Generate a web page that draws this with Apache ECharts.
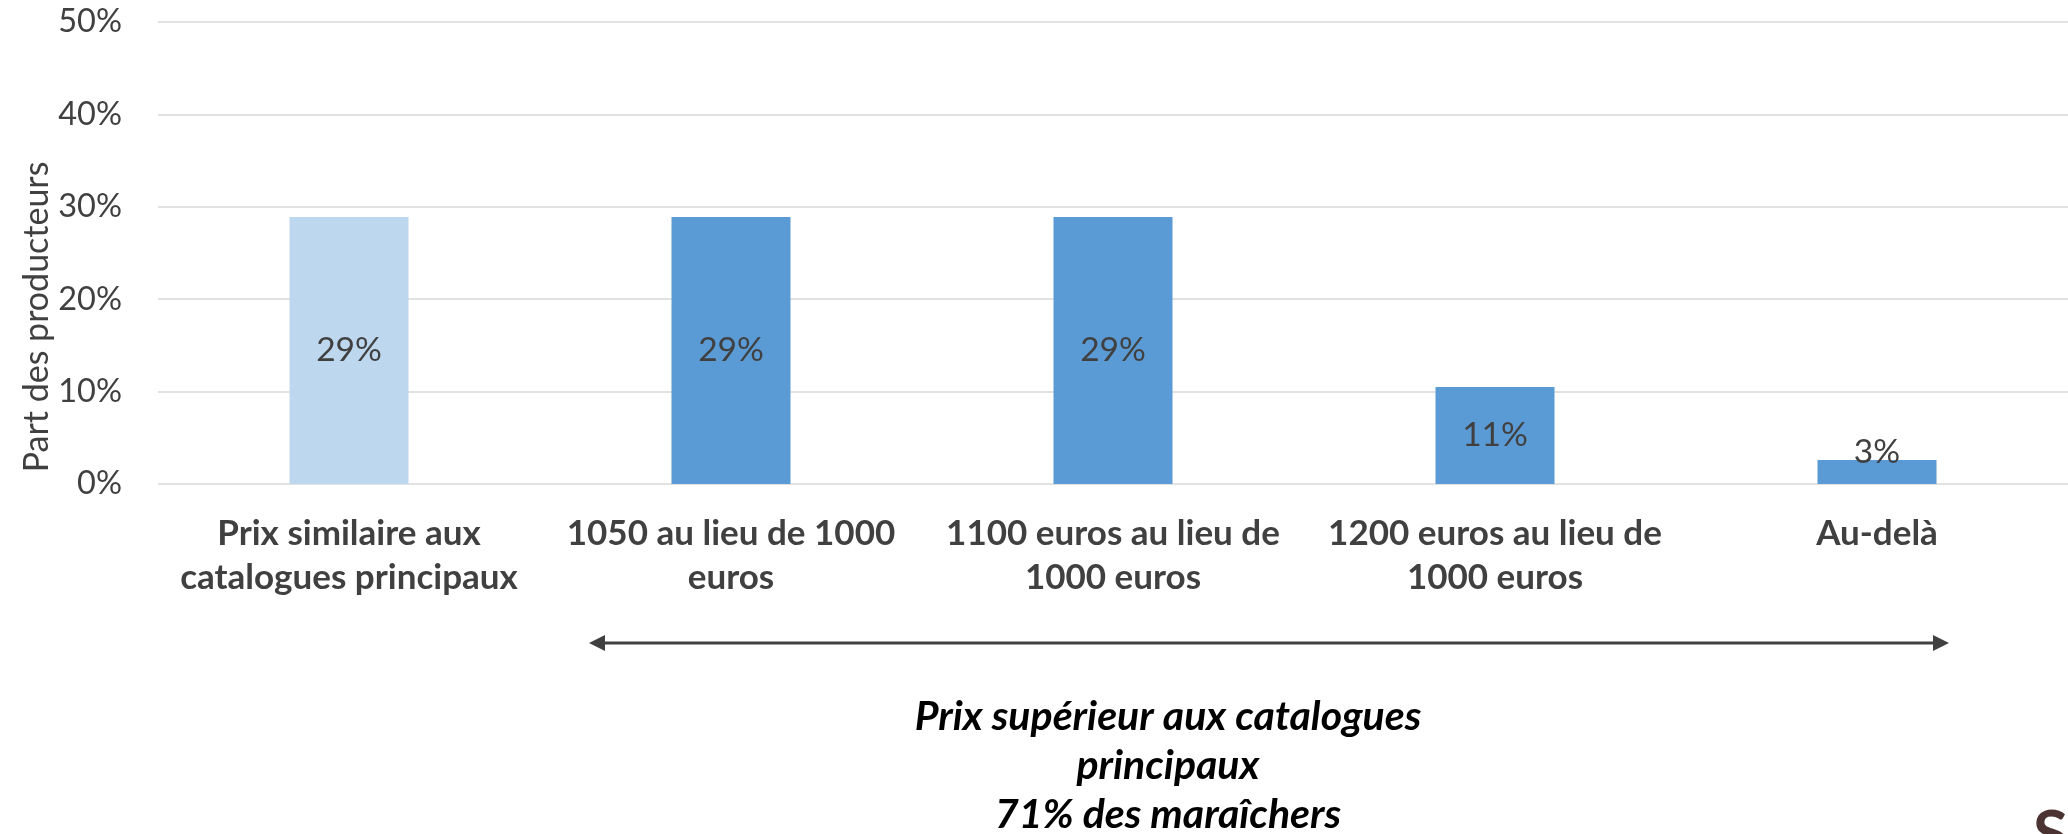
<!DOCTYPE html>
<html>
<head>
<meta charset="utf-8">
<script src="https://cdn.jsdelivr.net/npm/echarts@6/dist/echarts.min.js"></script>
<style>
  html, body { margin: 0; padding: 0; background: #fff; }
  #chart { width: 2068px; height: 834px; }
</style>
</head>
<body>
<div id="chart"></div>
<script>
// catégories (retours à la ligne comme dans l'original)
const categories = [
  'Prix similaire aux\ncatalogues principaux',
  '1050 au lieu de 1000\neuros',
  '1100 euros au lieu de\n1000 euros',
  '1200 euros au lieu de\n1000 euros',
  'Au-delà'
]
// part des producteurs, en %
const shares = [28.9, 28.9, 28.9, 10.5, 2.6]
const yTicks = [0, 10, 20, 30, 40, 50]
const yTitle = 'Part des producteurs'
const noteLines = ['Prix supérieur aux catalogues', 'principaux', '71% des maraîchers']

const font = 'Lato, "Noto Sans", sans-serif'
const textColor = '#404040'

const chart = echarts.init(document.getElementById('chart'))

chart.setOption({
  animation: false,
  grid: {
    left: 158,
    right: -4,
    top: 22,
    bottom: 350
  },
  xAxis: {
    type: 'category',
    data: categories,
    axisLine: { show: false },
    axisTick: { show: false },
    axisLabel: {
      interval: 0,
      margin: 28,
      color: textColor,
      fontFamily: font,
      fontWeight: 'bold',
      fontSize: 35,
      lineHeight: 44
    }
  },
  yAxis: {
    type: 'value',
    min: yTicks[0],
    max: yTicks[yTicks.length - 1],
    interval: 10,
    axisLine: { show: false },
    axisTick: { show: false },
    axisLabel: {
      formatter: '{value}%',
      margin: 36,
      color: textColor,
      fontFamily: font,
      fontSize: 32.5
    },
    splitLine: {
      lineStyle: { color: '#d9d9d9', width: 1.5 }
    }
  },
  series: [
    {
      type: 'bar',
      barWidth: 119,
      data: shares.map((v, i) => ({
        value: v,
        itemStyle: { color: i === 0 ? '#bdd7ee' : '#5b9bd5' },
        // le petit dernier : étiquette posée sur la barre
        label: v < 5 ? { position: 'top', distance: -9 } : undefined
      })),
      label: {
        show: true,
        position: 'inside',
        formatter: p => Math.round(p.value) + '%',
        color: textColor,
        fontFamily: font,
        fontSize: 33.5
      }
    }
  ],
  graphic: [
    {
      type: 'text',
      x: 37,
      y: 317,
      rotation: Math.PI / 2,
      style: {
        text: yTitle,
        fill: textColor,
        font: '34px ' + font,
        align: 'center',
        verticalAlign: 'middle'
      }
    },
    // flèche double sous les catégories 2 à 5
    {
      type: 'line',
      shape: { x1: 600, y1: 643, x2: 1938, y2: 643 },
      style: { stroke: '#404040', lineWidth: 3 }
    },
    {
      type: 'polygon',
      shape: { points: [[589, 643], [605, 635], [605, 651]] },
      style: { fill: '#404040' }
    },
    {
      type: 'polygon',
      shape: { points: [[1949, 643], [1933, 635], [1933, 651]] },
      style: { fill: '#404040' }
    },
    {
      type: 'text',
      x: 1168,
      y: 766,
      style: {
        text: noteLines.join('\n'),
        fill: '#000',
        font: 'italic bold 41px ' + font,
        lineHeight: 49,
        align: 'center',
        verticalAlign: 'middle'
      }
    },
    // logo coupé en bas à droite
    {
      type: 'text',
      x: 2033,
      y: 803,
      style: {
        text: 'S',
        fill: '#4b3333',
        font: 'bold 64px ' + font
      }
    }
  ]
})
</script>
</body>
</html>
